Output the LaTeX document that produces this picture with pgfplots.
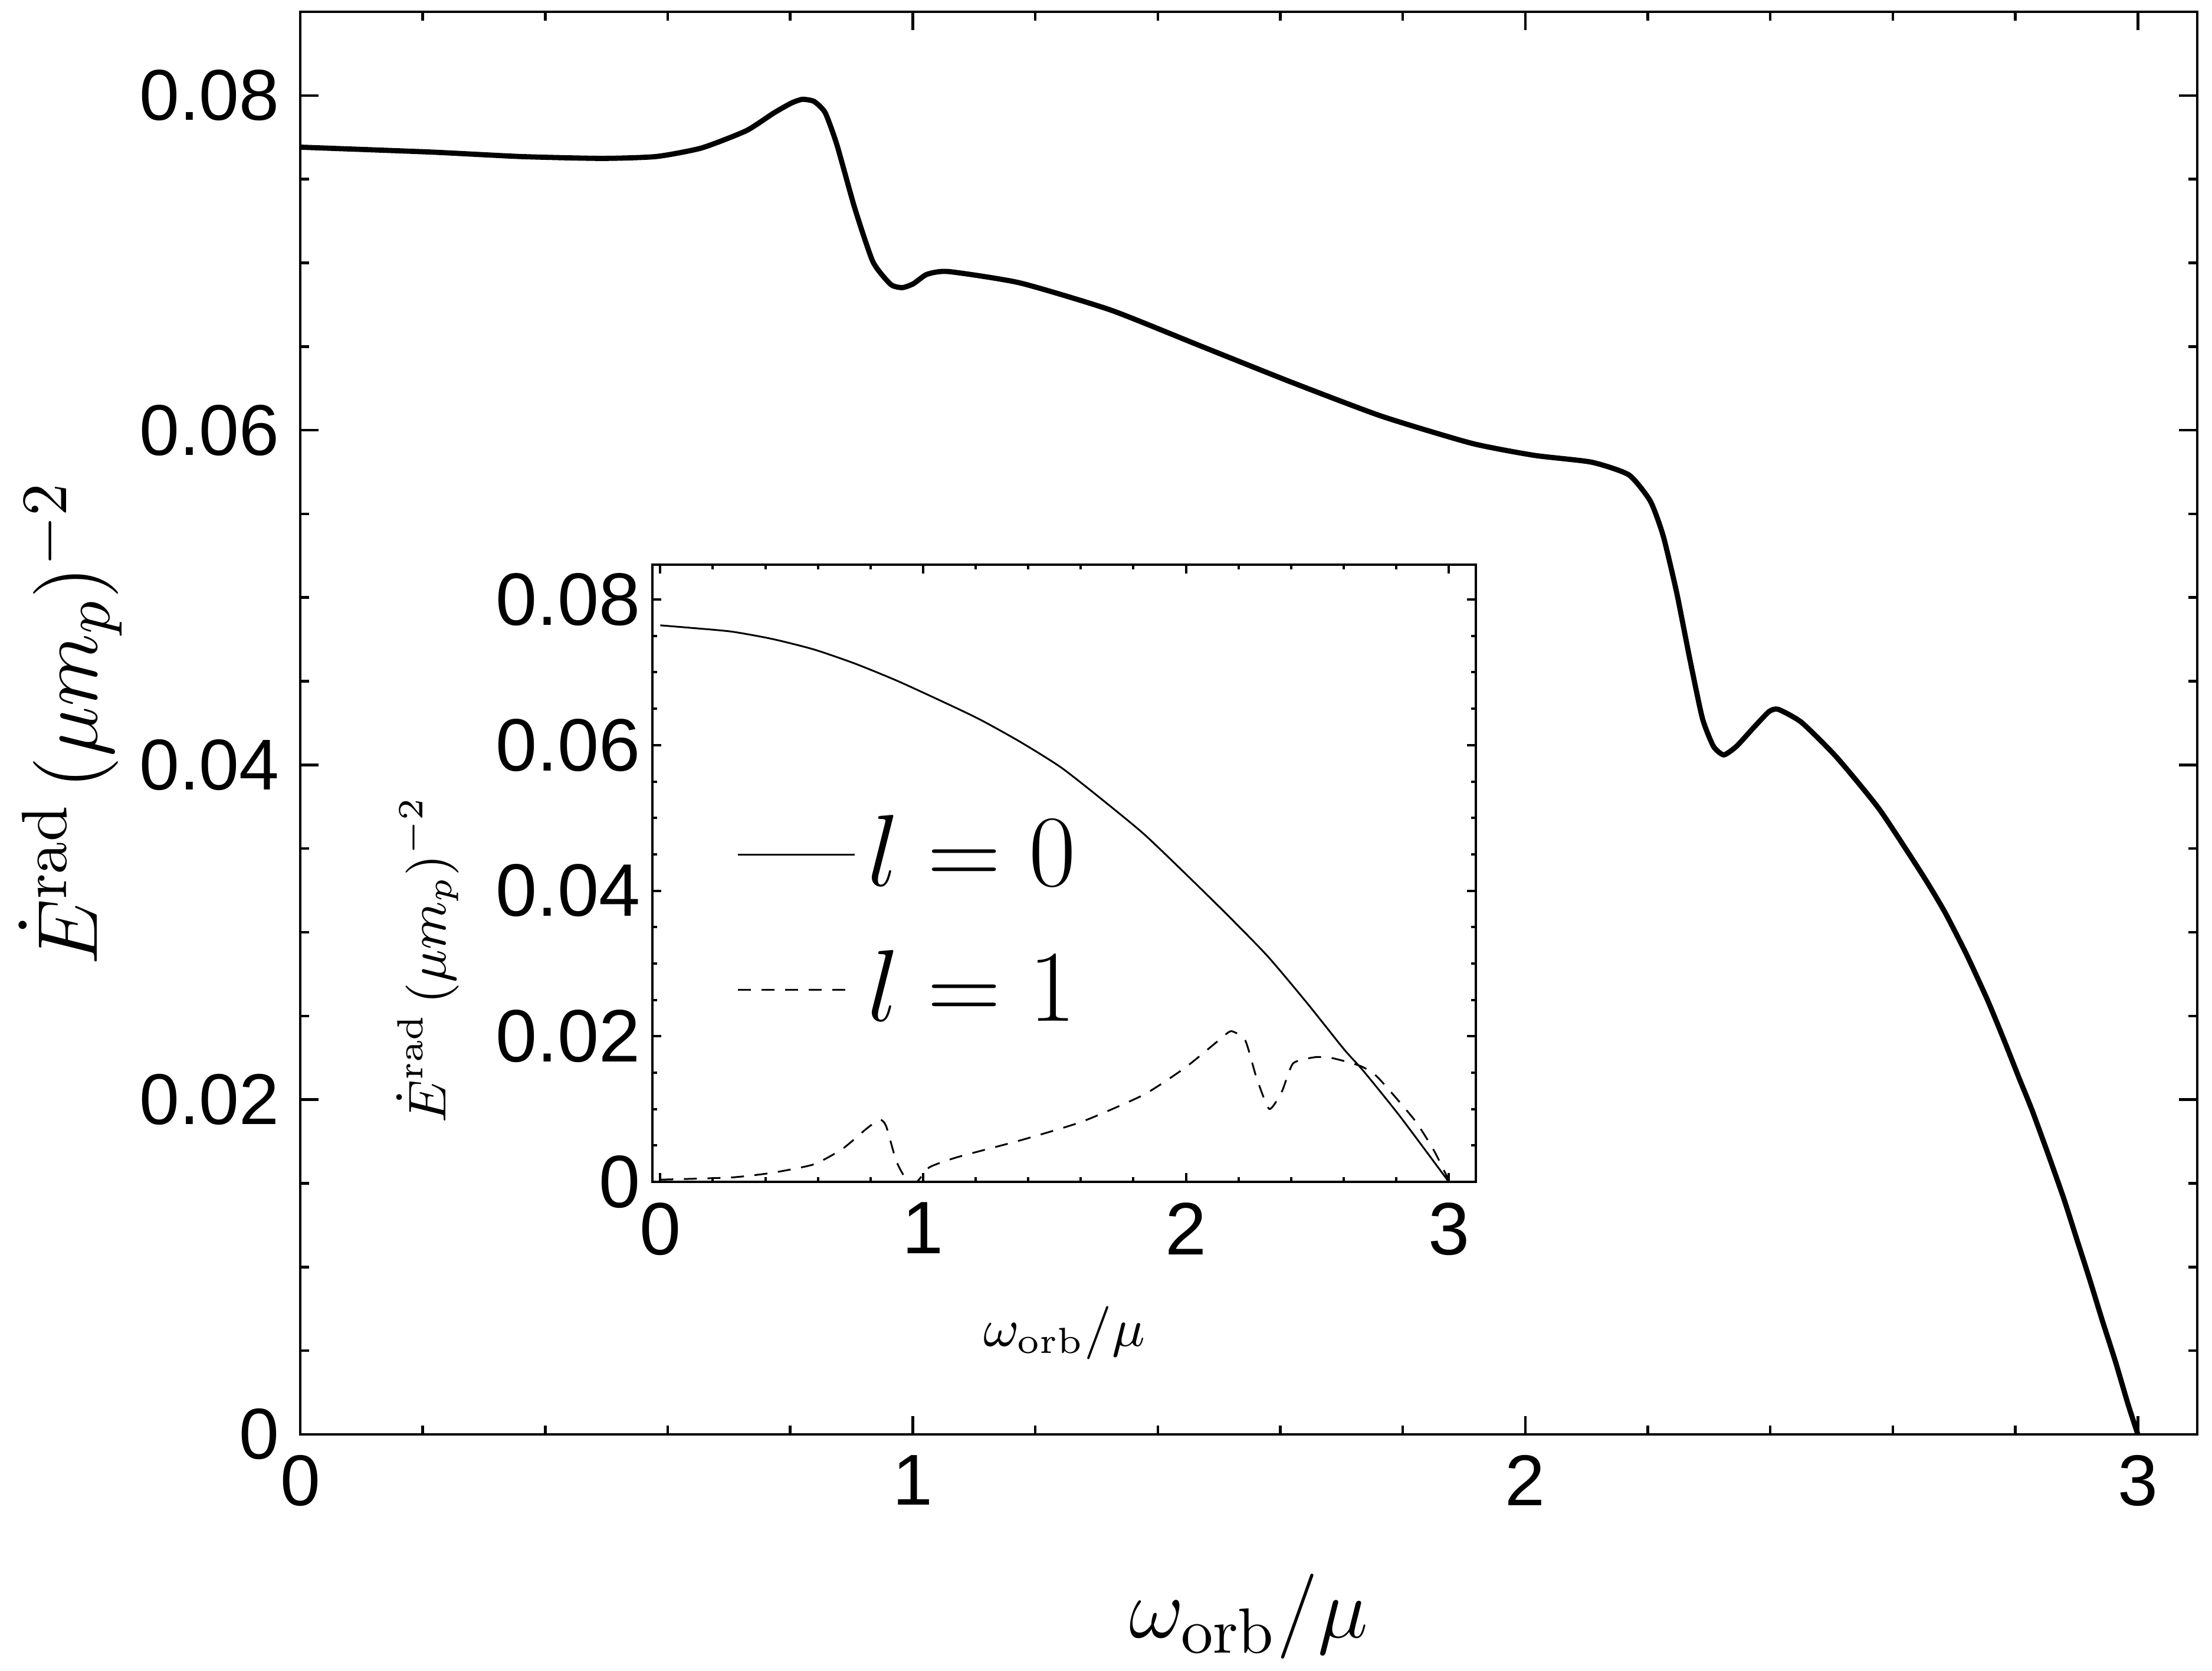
\documentclass[border=0pt]{standalone}
\usepackage{fontspec}
\usepackage{pgfplots}
\pgfplotsset{compat=1.18}
\usetikzlibrary{calc}
\newfontfamily\arial{Liberation Sans}

\begin{document}
\begin{tikzpicture}
% main panel
\begin{axis}[
    name=main,
    scale only axis,
    width=321.6pt, height=241.1pt,
    xmin=0, xmax=3.097, ymin=0, ymax=0.0850,
    xtick={0,1,2,3}, xticklabels={0,1,2,3}, minor x tick num=4,
    ytick={0,0.02,0.04,0.06,0.08}, yticklabels={0,0.02,0.04,0.06,0.08}, minor y tick num=3,
    scaled y ticks=false,
    tick pos=both, tick align=inside,
    major tick length=3.1pt, minor tick length=1.5pt,
    every tick/.style={black, line width=0.45pt},
    axis line style={line width=0.45pt},
    ticklabel style={font=\arial\fontsize{12.2}{14}\selectfont},
    label style={font=\fontsize{15.5}{18}\selectfont},
    xlabel={$\omega_{\mathrm{orb}}/\mu$},
    ylabel={$\dot{E}^{\mathrm{rad}}\,(\mu m_p)^{-2}$},
    xlabel style={at={(axis description cs:0.5,-0.128)}, anchor=center},
    ylabel style={at={(axis description cs:-0.121,0.5)}, anchor=center},
]
\addplot[black, line width=0.88pt, smooth, tension=0.35] coordinates {
    (0.000,0.07691)(0.212,0.07662)(0.360,0.07635)(0.492,0.07624)(0.581,0.07635)
    (0.655,0.07686)(0.728,0.07789)(0.773,0.07895)(0.802,0.07955)(0.820,0.07977)
    (0.839,0.07964)(0.857,0.07897)(0.876,0.07707)(0.905,0.07330)(0.935,0.07006)
    (0.964,0.06871)(0.983,0.06852)(1.001,0.06875)(1.023,0.06931)(1.058,0.06948)
    (1.175,0.06880)(1.323,0.06718)(1.470,0.06503)(1.618,0.06287)(1.765,0.06084)
    (1.912,0.05922)(2.014,0.05850)(2.108,0.05809)(2.169,0.05733)(2.204,0.05577)
    (2.225,0.05370)(2.247,0.05032)(2.268,0.04643)(2.289,0.04280)(2.307,0.04112)
    (2.324,0.04060)(2.345,0.04112)(2.374,0.04228)(2.398,0.04319)(2.413,0.04332)
    (2.451,0.04254)(2.508,0.04047)(2.578,0.03735)(2.649,0.03340)(2.685,0.03120)
    (2.720,0.02870)(2.754,0.02600)(2.780,0.02370)(2.806,0.02130)(2.827,0.01940)
    (2.853,0.01680)(2.879,0.01410)(2.900,0.01170)(2.921,0.00930)(2.942,0.00680)
    (2.963,0.00440)(2.984,0.00180)(3.000,0.00000)
};
\end{axis}

% inset
\begin{axis}[
    at={($(main.south west)+(59.7pt,42.8pt)$)}, anchor=south west,
    scale only axis,
    width=139.6pt, height=104.6pt,
    xmin=-0.03, xmax=3.103, ymin=0, ymax=0.0848,
    xtick={0,1,2,3}, xticklabels={0,1,2,3}, minor x tick num=4,
    ytick={0,0.02,0.04,0.06,0.08}, yticklabels={0,0.02,0.04,0.06,0.08}, minor y tick num=3,
    scaled y ticks=false,
    tick pos=both, tick align=inside,
    major tick length=1.5pt, minor tick length=0.8pt,
    every tick/.style={black, line width=0.4pt},
    axis line style={line width=0.4pt},
    ticklabel style={font=\arial\fontsize{12.6}{14}\selectfont},
    yticklabel style={xshift=1.5pt},
    label style={font=\fontsize{8.8}{10.5}\selectfont},
    xlabel={$\omega_{\mathrm{orb}}/\mu$},
    ylabel={$\dot{E}^{\mathrm{rad}}\,(\mu m_p)^{-2}$},
    xlabel style={at={(axis description cs:0.5,-0.245)}, anchor=center},
    ylabel style={at={(axis description cs:-0.273,0.36)}, anchor=center},
    legend style={at={(axis cs:0.22,0.0538)}, anchor=north west, draw=none, fill=none,
        font=\fontsize{16.2}{19}\selectfont, row sep=5.4pt},
    legend cell align=left,
    legend image code/.code={\draw[#1] (0pt,0pt) -- (19.8pt,0pt);},
]
\addplot[black, line width=0.3pt, smooth, tension=0.4] coordinates {
    (0.000,0.07646)(0.114,0.07612)(0.271,0.07560)(0.427,0.07458)(0.584,0.07315)
    (0.741,0.07120)(0.898,0.06889)(1.055,0.06630)(1.212,0.06360)(1.369,0.06046)
    (1.525,0.05693)(1.682,0.05249)(1.839,0.04782)(1.996,0.04241)(2.153,0.03684)
    (2.310,0.03103)(2.460,0.02460)(2.601,0.01823)(2.676,0.01520)(2.816,0.00892)
    (3.000,0.00000)
};
\addlegendentry{$l=0$}
\addplot[black, line width=0.3pt, dash pattern=on 2.2pt off 1.8pt, smooth, tension=0.35] coordinates {
    (0.000,0.00030)(0.270,0.00060)(0.427,0.00125)(0.584,0.00240)(0.694,0.00455)
    (0.788,0.00740)(0.835,0.00854)(0.859,0.00769)(0.898,0.00285)(0.937,0.00030)
    (0.976,0.00000)(1.024,0.00200)(1.133,0.00342)(1.369,0.00569)(1.604,0.00826)
    (1.839,0.01196)(1.996,0.01566)(2.122,0.01936)(2.172,0.02070)(2.226,0.01940)
    (2.268,0.01435)(2.317,0.01001)(2.365,0.01241)(2.408,0.01629)(2.494,0.01714)
    (2.558,0.01699)(2.665,0.01590)(2.730,0.01435)(2.869,0.00853)(2.944,0.00427)
    (3.000,0.00020)
};
\addlegendentry{$l=1$}
\end{axis}

\pgfresetboundingbox
\path ($(main.south west)+(-50.9pt,-40.1pt)$) rectangle ($(main.north east)+(2.5pt,2.0pt)$);
\end{tikzpicture}
\end{document}
